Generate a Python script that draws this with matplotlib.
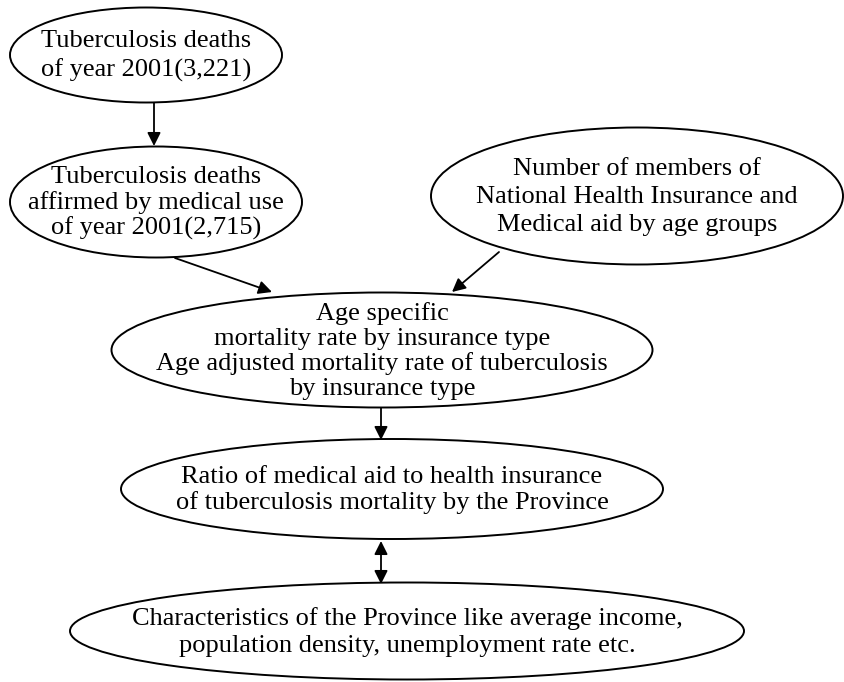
import matplotlib.pyplot as plt
from matplotlib.patches import Ellipse

# node labels (top to bottom)
labels = [
    "Tuberculosis deaths\nof year 2001(3,221)",
    "Tuberculosis deaths\naffirmed by medical use\nof year 2001(2,715)",
    "Number of members of\nNational Health Insurance and\nMedical aid by age groups",
    "Age specific\nmortality rate by insurance type\nAge adjusted mortality rate of tuberculosis\nby insurance type",
    "Ratio of medical aid to health insurance\nof tuberculosis mortality by the Province",
    "Characteristics of the Province like average income,\npopulation density, unemployment rate etc.",
]
# edges: (from, to, two-way)
edges = [(0, 1, False), (1, 3, False), (2, 3, False), (3, 4, False), (4, 5, True)]

# layout in pixel space: centre x, centre y, width, height, text line spacing
layout = [
    (146, 55, 272, 95, 1.35),
    (156, 202, 292, 111, 1.16),
    (637, 196, 412, 137, 1.38),
    (382, 350, 541, 115, 1.16),
    (392, 489, 542, 100, 1.16),
    (407, 631, 674, 97, 1.25),
]
# arrow end points (start, end) in pixel space
arrow_pts = [
    ((154, 103), (154, 146)),
    ((175, 258), (272, 292)),
    ((499, 252), (452, 292)),
    ((381, 408), (381, 440)),
    ((381, 541), (381, 584)),
]

plt.rcParams['font.family'] = ['Liberation Serif', 'DejaVu Serif']

fig = plt.figure(figsize=(8.45, 6.82), dpi=100)
ax = fig.add_axes([0, 0, 1, 1])
ax.set_xlim(0, 845)
ax.set_ylim(682, 0)
ax.axis('off')

for (cx, cy, w, h, ls), txt in zip(layout, labels):
    ax.add_patch(Ellipse((cx, cy), w, h, fill=False, ec='black', lw=1.4))
    ax.text(cx, cy + 1, txt, ha='center', va='center', fontsize=19,
            linespacing=ls, multialignment='center')

for (a, b, both), (p0, p1) in zip(edges, arrow_pts):
    style = '<|-|>' if both else '-|>'
    ax.annotate('', xy=p1, xytext=p0,
                arrowprops=dict(arrowstyle=style, color='black', lw=1.3,
                                mutation_scale=20, shrinkA=0, shrinkB=0))

fig.savefig('out.png', dpi=100, facecolor='white')
